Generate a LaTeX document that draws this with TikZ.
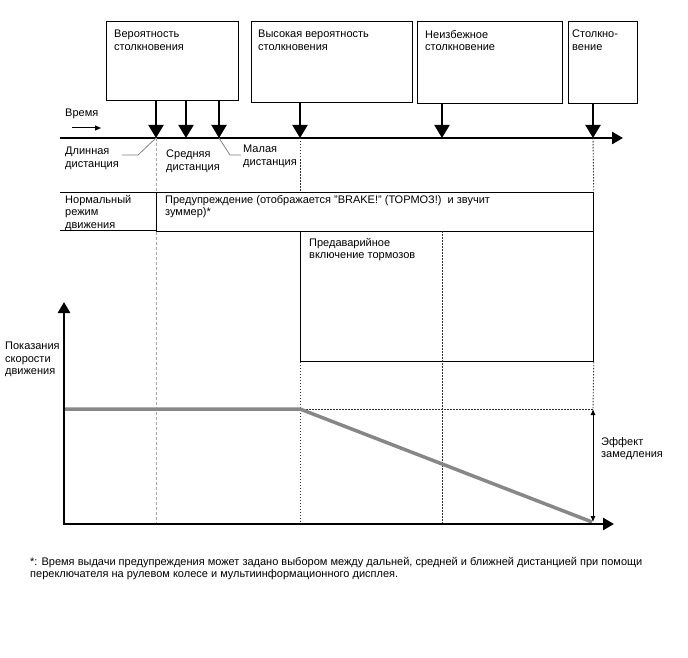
\documentclass[tikz,border=0pt]{standalone}
\usepackage{fontspec}
\setmainfont{Liberation Sans}
\usetikzlibrary{arrows.meta}
\begin{document}
\begin{tikzpicture}[x=1pt,y=-1pt,
  box/.style={draw, line width=0.8pt, anchor=north west, inner sep=0pt},
  txt/.style={anchor=north west, inner sep=0pt, align=left, font=\fontsize{11}{12.6}\selectfont},
  evarrow/.style={line width=2pt, -{Triangle[width=15pt,length=13pt]}},
  timeline/.style={line width=2.6pt, -{Triangle[width=12pt,length=11pt]}},
  leader/.style={draw=black!50, line width=0.8pt},
  graydash/.style={draw=black!35, line width=0.9pt, dash pattern=on 3pt off 2pt},
  darkdot/.style={draw=black!80, line width=0.9pt, dash pattern=on 1.5pt off 1.5pt},
  thin/.style={line width=0.8pt},
  axis/.style={line width=2.6pt, -{Triangle[width=12pt,length=11pt]}},
  speed/.style={draw=black!47, line width=3.5pt},
  dbl/.style={line width=0.9pt, {Latex[length=6pt,width=5pt]}-{Latex[length=6pt,width=5pt]}}
]
\useasboundingbox (0,0) rectangle (688,658);

% event boxes
\node[box, minimum width=132pt, minimum height=79pt] (b1) at (106,21) {};
\node[box, minimum width=161pt, minimum height=81pt] (b2) at (251,21) {};
\node[box, minimum width=145pt, minimum height=82pt] (b3) at (417,21) {};
\node[box, minimum width=69pt, minimum height=82pt] (b4) at (568,21) {};
\node[txt] (b1t) at (114,30) {Вероятность\\столкновения};
\node[txt] (b2t) at (258,30) {Высокая вероятность\\столкновения};
\node[txt] (b3t) at (425,30) {Неизбежное\\столкновение};
\node[txt] (b4t) at (572,30) {Столкно-\\вение};

% timeline
\coordinate (tlA) at (60,138);
\coordinate (tlB) at (623,138);
\coordinate (t1) at (156,138);
\coordinate (t2) at (186,138);
\coordinate (t3) at (219,138);
\coordinate (t4) at (300,138);
\coordinate (t5) at (442,138);
\coordinate (t6) at (593,138);
\draw[timeline] (tlA) -- (tlB);
\draw[evarrow] (b1.south -| t1) -- (t1);
\draw[evarrow] (b1.south -| t2) -- (t2);
\draw[evarrow] (b1.south -| t3) -- (t3);
\draw[evarrow] (b2.south -| t4) -- (t4);
\draw[evarrow] (b3.south -| t5) -- (t5);
\draw[evarrow] (b4.south -| t6) -- (t6);

% time label
\node[txt] (vr) at (65,109) {Время};
\coordinate (va) at (72,128);
\coordinate (vb) at (101,128);
\draw[line width=1pt, -{Triangle[width=5pt,length=6pt]}] (va) -- (vb);

% distance labels
\node[txt] (ld) at (65,147) {Длинная\\дистанция};
\node[txt] (sd) at (166,150) {Средняя\\дистанция};
\node[txt] (md) at (243,145) {Малая\\дистанция};
\coordinate (ld1) at (138,155);
\coordinate (ld2) at (122,155);
\coordinate (md1) at (230,155);
\coordinate (md2) at (241,155);
\draw[leader] (t1) -- (ld1) -- (ld2);
\draw[leader] (t3) -- (md1) -- (md2);

% mode rows
\node[box, minimum width=437pt, minimum height=39pt] (warn) at (156,192) {};
\coordinate (nA) at (60,192);
\coordinate (nB) at (60,230);
\coordinate (nC) at (156,230);
\draw[thin] (nA) -- (warn.north west);
\draw[thin] (nB) -- (nC);
\node[txt] (nt) at (65,195) {Нормальный\\режим\\движения};
\node[txt] (wt) at (165,195) {Предупреждение (отображается "BRAKE!" (ТОРМОЗ!)~ и звучит\\зуммер)*};
\node[box, minimum width=293pt, minimum height=130pt] (pre) at (300,231) {};
\node[txt] (pt) at (309,238) {Предаварийное\\включение тормозов};

% graph
\coordinate (O) at (64,524);
\coordinate (yT) at (64,302);
\coordinate (xT) at (614,524);
\coordinate (s0) at (64,409);
\coordinate (s1) at (300,409);
\coordinate (s2) at (592,522);
\coordinate (h1) at (593,409);
\coordinate (h2) at (593,522);
\coordinate (x156) at (156,524);
\coordinate (x300) at (300,524);
\coordinate (x442) at (442,524);
\coordinate (p442) at (442,231);

% guide lines
\draw[graydash] (t1) -- (warn.north west);
\draw[graydash] (warn.south west) -- (x156);
\draw[darkdot] (t4) -- (warn.north -| t4);
\draw[darkdot] (pre.south west) -- (x300);
\draw[darkdot] (p442) -- (x442);
\draw[darkdot] (t6) -- (warn.north east);
\draw[darkdot] (pre.south east) -- (h1);
\draw[darkdot] (s1) -- (h1);

\draw[speed] (s0) -- (s1) -- (s2);
\draw[axis] (O) -- (yT);
\draw[axis] ([xshift=-1.3pt]O) -- (xT);
\draw[dbl] (h1) -- (h2);

\node[txt] (sp) at (5,342) {Показания\\скорости\\движения};
\node[txt] (ef) at (601,437) {Эффект\\замедления};
\node[txt] (fn) at (30,557) {*: Время выдачи предупреждения может задано выбором между дальней, средней и ближней дистанцией при помощи\\переключателя на рулевом колесе и мультиинформационного дисплея.};
\end{tikzpicture}
\end{document}
